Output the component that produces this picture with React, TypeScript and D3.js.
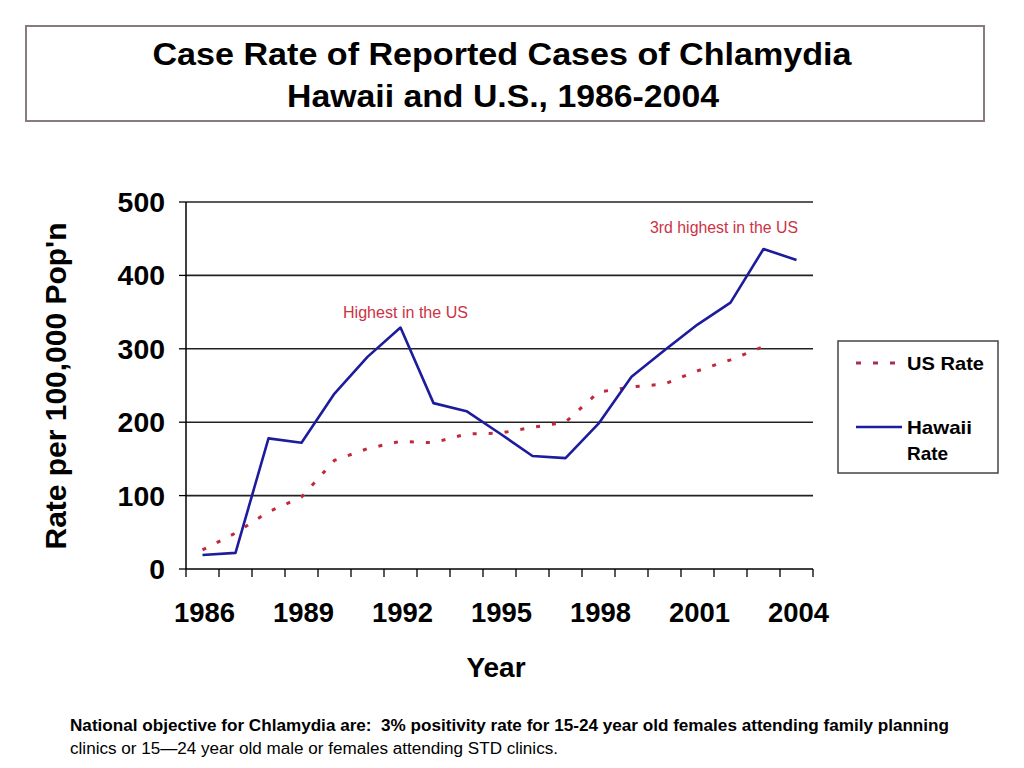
import React from "react";
import * as d3 from "d3";

const years = [1986,1987,1988,1989,1990,1991,1992,1993,1994,1995,1996,1997,1998,1999,2000,2001,2002,2003,2004];
const hawaiiRate = [19,22,178,172,239,289,329,226,215,185,154,151,198,262,298,333,363,436,421];
const usRate = [26,49,78,98,148,164,174,172,184,185,193,200,241,248,252,270,285,303];
const yTicks = [0,100,200,300,400,500];
const xLabelYears = [1986,1989,1992,1995,1998,2001,2004];

const titleLines = ["Case Rate of Reported Cases of Chlamydia", "Hawaii and U.S., 1986-2004"];
const footLines = [
  "National objective for Chlamydia are:  3% positivity rate for 15-24 year old females attending family planning",
  "clinics or 15\u201424 year old male or females attending STD clinics.",
];

export default function App() {
  const x = d3.scaleBand<number>().domain(years).range([186, 813]).padding(0);
  const y = d3.scaleLinear().domain([0, 500]).range([569, 202]);
  const cx = (yr: number) => (x(yr) as number) + x.bandwidth() / 2;
  const line = d3.line<[number, number]>().x(d => cx(d[0])).y(d => y(d[1]));
  const hawaiiData: [number, number][] = years.map((yr, i) => [yr, hawaiiRate[i]]);
  const usData: [number, number][] = usRate.map((v, i) => [years[i], v]);
  const edges = [...years.map(yr => x(yr) as number), x.range()[1]];
  const font = "'Liberation Sans', Arial, sans-serif";

  return (
    <svg width={1024} height={768} style={{ position: "absolute", left: 0, top: 0, background: "#fff" }} fontFamily={font}>
      <rect x={0} y={0} width={1024} height={768} fill="#fff" />
      {/* title box */}
      <rect x={26} y={26} width={958} height={95} fill="#fff" stroke="#8a7a80" strokeWidth={2} />
      <text x={502} y={65} textAnchor="middle" fontSize={32} fontWeight="bold" textLength={699} lengthAdjust="spacingAndGlyphs">{titleLines[0]}</text>
      <text x={503} y={107} textAnchor="middle" fontSize={32} fontWeight="bold" textLength={432} lengthAdjust="spacingAndGlyphs">{titleLines[1]}</text>

      {/* gridlines */}
      {yTicks.filter(t => t > 0).map(t => (
        <line key={"g" + t} x1={186} x2={813} y1={y(t)} y2={y(t)} stroke="#222" strokeWidth={1.6} />
      ))}
      {/* axes */}
      <line x1={186} x2={186} y1={y(500)} y2={y(0)} stroke="#000" strokeWidth={1.5} />
      <line x1={186} x2={813} y1={y(0)} y2={y(0)} stroke="#000" strokeWidth={1.5} />
      {yTicks.map(t => (
        <g key={"yt" + t}>
          <line x1={179} x2={186} y1={y(t)} y2={y(t)} stroke="#000" strokeWidth={1.3} />
          <text x={165} y={y(t) + 10} textAnchor="end" fontSize={27} fontWeight="bold" textLength={String(t).length * 15.8} lengthAdjust="spacingAndGlyphs">{t}</text>
        </g>
      ))}
      {edges.map((e, i) => (
        <line key={"xt" + i} x1={e} x2={e} y1={y(0)} y2={y(0) + 8} stroke="#000" strokeWidth={1.3} />
      ))}
      {xLabelYears.map(yr => (
        <text key={"xl" + yr} x={cx(yr) + 2} y={622} textAnchor="middle" fontSize={28} fontWeight="bold" textLength={61} lengthAdjust="spacingAndGlyphs">{yr}</text>
      ))}
      <text x={496} y={677} textAnchor="middle" fontSize={28} fontWeight="bold">Year</text>
      <text transform="translate(66,386) rotate(-90)" textAnchor="middle" fontSize={30} fontWeight="bold" textLength={327} lengthAdjust="spacingAndGlyphs">Rate per 100,000 Pop'n</text>

      {/* series */}
      <path d={line(usData) || ""} fill="none" stroke="#c0283c" strokeWidth={3} strokeDasharray="4,12" />
      <path d={line(hawaiiData) || ""} fill="none" stroke="#1c1c9c" strokeWidth={2.6} strokeLinejoin="round" />

      {/* annotations */}
      <text x={343} y={318} fontSize={16} fill="#cc3344" textLength={125} lengthAdjust="spacingAndGlyphs">Highest in the US</text>
      <text x={650} y={233} fontSize={16} fill="#cc3344" textLength={148} lengthAdjust="spacingAndGlyphs">3rd highest in the US</text>

      {/* legend */}
      <rect x={838} y={341} width={160} height={132} fill="#fff" stroke="#444" strokeWidth={1.5} />
      <line x1={856} x2={896} y1={363} y2={363} stroke="#a8304c" strokeWidth={3} strokeDasharray="5,12" />
      <text x={907} y={370} fontSize={19} fontWeight="bold" textLength={77} lengthAdjust="spacingAndGlyphs">US Rate</text>
      <line x1={856} x2={902} y1={427} y2={427} stroke="#1c1c9c" strokeWidth={2.6} />
      <text x={907} y={434} fontSize={19} fontWeight="bold" textLength={65} lengthAdjust="spacingAndGlyphs">Hawaii</text>
      <text x={907} y={460} fontSize={19} fontWeight="bold">Rate</text>

      {/* footer */}
      <text x={70} y={731} fontSize={16} fontWeight="bold" textLength={879} lengthAdjust="spacingAndGlyphs" style={{ whiteSpace: "pre" }}>{footLines[0]}</text>
      <text x={70} y={754} fontSize={16} textLength={488} lengthAdjust="spacingAndGlyphs">{footLines[1]}</text>
    </svg>
  );
}
